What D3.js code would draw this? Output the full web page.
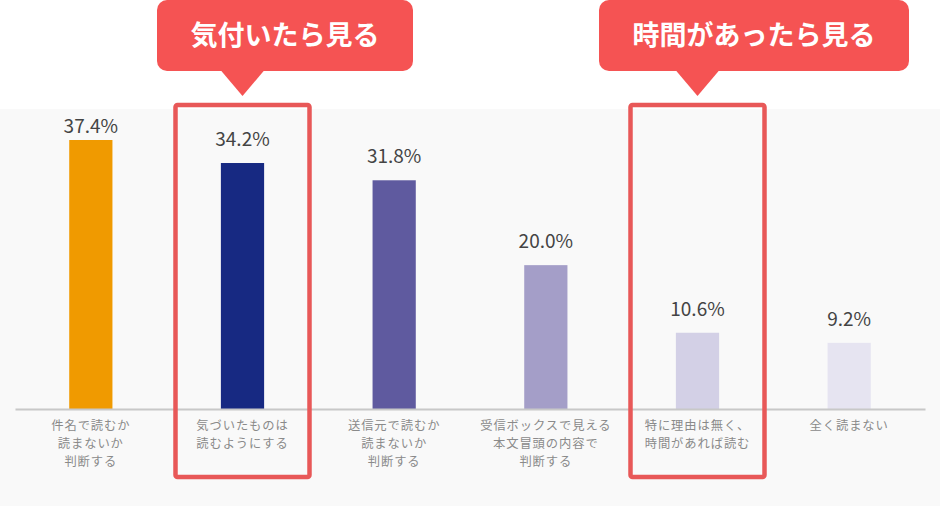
<!DOCTYPE html>
<html><head><meta charset="utf-8">
<script src="https://cdn.jsdelivr.net/npm/d3@7"></script>
<style>html,body{margin:0;padding:0;background:#fff;}svg{display:block;}</style>
</head><body>
<svg id="chart" width="940" height="506"></svg>
<script>
const categories = [
  ["件名で読むか","読まないか","判断する"],
  ["気づいたものは","読むようにする"],
  ["送信元で読むか","読まないか","判断する"],
  ["受信ボックスで見える","本文冒頭の内容で","判断する"],
  ["特に理由は無く、","時間があれば読む"],
  ["全く読まない"]
];
const values = [37.4, 34.2, 31.8, 20.0, 10.6, 9.2];
const barColors = ["#f09a00","#172982","#5f5a9f","#a49ec8","#d3d0e6","#e6e4f1"];
const callouts = [
  {label:"気付いたら見る", index:1},
  {label:"時間があったら見る", index:4}
];
const calloutPos = [{x0:157,x1:413},{x0:599,x1:909}];

const svg = d3.select("#chart");
const W = 940, H = 506;
const baseY = 409, left = 15, right = 925;
const font = "'Noto Sans CJK JP','Noto Sans',sans-serif";

svg.append("rect").attr("x",0).attr("y",109).attr("width",W).attr("height",H-109).attr("fill","#f9f9f9");

const x = d3.scaleBand().domain(d3.range(values.length)).range([left,right]).paddingInner(0.715).paddingOuter(0.3575);
const y = d3.scaleLinear().domain([0,37.4]).range([baseY,140]);

svg.append("g").selectAll("rect").data(values).join("rect")
  .attr("x",(d,i)=>x(i)).attr("y",d=>y(d))
  .attr("width",x.bandwidth()).attr("height",d=>baseY-y(d))
  .attr("fill",(d,i)=>barColors[i]);

// axis
const axis = d3.axisBottom(x).tickSize(0).tickFormat("");
const ag = svg.append("g").attr("transform",`translate(0,${baseY})`).call(axis);
ag.select(".domain").attr("stroke","#c8c8c8").attr("stroke-width",2);

// value labels
svg.append("g").selectAll("text").data(values).join("text")
  .attr("x",(d,i)=>x(i)+x.bandwidth()/2)
  .attr("y",d=>Math.max(y(d)-17,133))
  .attr("text-anchor","middle")
  .attr("font-family",font).attr("font-size",19).attr("fill","#444")
  .text(d=>d.toFixed(1)+"%");

// category labels
const cg = svg.append("g").selectAll("text").data(categories).join("text")
  .attr("text-anchor","middle")
  .attr("font-family",font).attr("font-size",12.3).attr("letter-spacing",0.9).attr("fill","#8a8a8a");
cg.each(function(lines,i){
  d3.select(this).selectAll("tspan").data(lines).join("tspan")
    .attr("x",x(i)+x.bandwidth()/2)
    .attr("y",(l,j)=>430+j*18)
    .text(l=>l);
});

// highlight boxes and callouts
callouts.forEach((c,k)=>{
  const cx = x(c.index)+x.bandwidth()/2;
  const bw = 134;
  svg.append("rect").attr("x",cx-bw/2).attr("y",105).attr("width",bw).attr("height",372)
    .attr("rx",2).attr("fill","none").attr("stroke","#e85858").attr("stroke-width",4.5);
  const p = calloutPos[k];
  const g = svg.append("g");
  g.append("rect").attr("x",p.x0).attr("y",0).attr("width",p.x1-p.x0).attr("height",71)
    .attr("rx",10).attr("fill","#f55353");
  g.append("path").attr("d",`M${cx-22},70 L${cx},96 L${cx+22},70 Z`).attr("fill","#f55353");
  g.append("text").attr("x",(p.x0+p.x1)/2).attr("y",45).attr("text-anchor","middle")
    .attr("font-family",font).attr("font-weight","bold").attr("font-size",27)
    .attr("fill","#fff").text(c.label);
});
</script>
</body></html>
